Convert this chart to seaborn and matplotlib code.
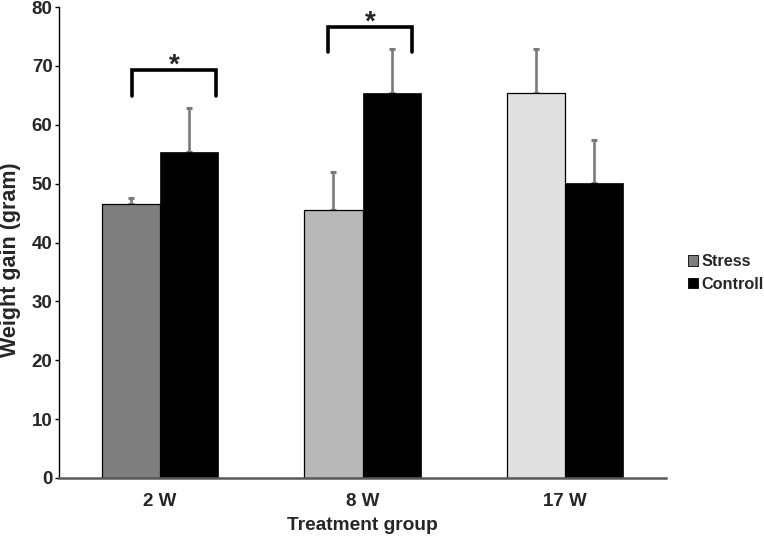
import numpy as np
import pandas as pd
import matplotlib
matplotlib.use("Agg")
import matplotlib.pyplot as plt
import seaborn as sns

# Data
groups = ["2 W", "8 W", "17 W"]
stress_mean = [46.5, 45.5, 65.4]
stress_err = [1.0, 6.5, 7.4]
control_mean = [55.4, 65.4, 50.1]
control_err = [7.4, 7.4, 7.3]
stress_colors = ["#7f7f7f", "#b8b8b8", "#e0e0e0"]

# significance brackets: (group index, left offset, right offset, leg bottom, top)
brackets = [(0, -0.14, 0.275, 64.9, 69.3), (1, -0.17, 0.245, 72.3, 76.6)]

df = pd.DataFrame({
    "group": groups * 2,
    "series": ["Stress"] * 3 + ["Controll"] * 3,
    "value": stress_mean + control_mean,
})

sns.set_style("white")
plt.rcParams["font.family"] = ["Liberation Sans", "DejaVu Sans"]
plt.rcParams["font.weight"] = "bold"

fig = plt.figure(figsize=(7.64, 5.38), dpi=100)
ax = fig.add_axes([59 / 764, 1 - 478 / 538, (666 - 59) / 764, (478 - 7) / 538])

sns.barplot(data=df, x="group", y="value", hue="series", order=groups,
            hue_order=["Stress", "Controll"],
            palette={"Stress": "#7f7f7f", "Controll": "black"},
            width=0.575, gap=0, errorbar=None, ax=ax, legend=True)

stress_bars, control_bars = ax.containers[0], ax.containers[1]
for bar, c in zip(stress_bars, stress_colors):
    bar.set_facecolor(c)
    bar.set_edgecolor("black")
    bar.set_linewidth(0.9)
for bar in control_bars:
    bar.set_edgecolor("black")
    bar.set_linewidth(0.5)

for bars, means, errs in [(stress_bars, stress_mean, stress_err),
                          (control_bars, control_mean, control_err)]:
    xs = [b.get_x() + b.get_width() / 2 for b in bars]
    ax.errorbar(xs, means, yerr=[np.zeros(len(errs)), errs], fmt="none",
                ecolor="#7a7a7a", elinewidth=1.9, capsize=2, capthick=2.2, zorder=1)
for b in list(stress_bars) + list(control_bars):
    b.set_zorder(2)

for gi, lo, hi, y0, y1 in brackets:
    ax.plot([gi + lo, gi + lo, gi + hi, gi + hi], [y0, y1, y1, y0],
            color="black", lw=2.6, solid_joinstyle="miter", clip_on=False)
    ax.text(gi + (lo + hi) / 2, y1 - 0.4, "*", ha="center", va="baseline",
            fontsize=20, fontweight="bold", clip_on=False)

ax.set_ylim(0, 80)
ax.set_xlim(-0.5, 2.5)
ax.set_yticks(range(0, 81, 10))
ax.set_xlabel("Treatment group", fontsize=13.8, fontweight="bold")
ax.set_ylabel("Weight gain (gram)", fontsize=15.5, fontweight="bold")
ax.xaxis.set_label_coords(0.5, -0.083)
ax.yaxis.set_label_coords(-0.063, 0.463)
ax.tick_params(axis="y", length=3, width=1, color="black", direction="out",
               labelsize=13.5, pad=1.6, left=True)
ax.tick_params(axis="x", length=0, labelsize=13.5, pad=10.5)
for lab in ax.get_xticklabels() + ax.get_yticklabels():
    lab.set_fontweight("bold")

for s in ["top", "right"]:
    ax.spines[s].set_visible(False)
ax.spines["left"].set_color("black")
ax.spines["left"].set_linewidth(1)
ax.spines["bottom"].set_color("#595959")
ax.spines["bottom"].set_linewidth(1.8)

handles, labels = ax.get_legend_handles_labels()
ax.get_legend().remove()
for h in handles:
    h.set_edgecolor("black")
    h.set_linewidth(0.6)
fig.legend(handles, labels, loc="center left", bbox_to_anchor=(688 / 764, 1 - 273 / 538),
           frameon=False, borderpad=0, borderaxespad=0,
           handlelength=0.62, handleheight=0.62, handletextpad=0.2,
           labelspacing=0.45, prop={"size": 11.7, "weight": "bold"})

fig.savefig("out.png", dpi=100)
